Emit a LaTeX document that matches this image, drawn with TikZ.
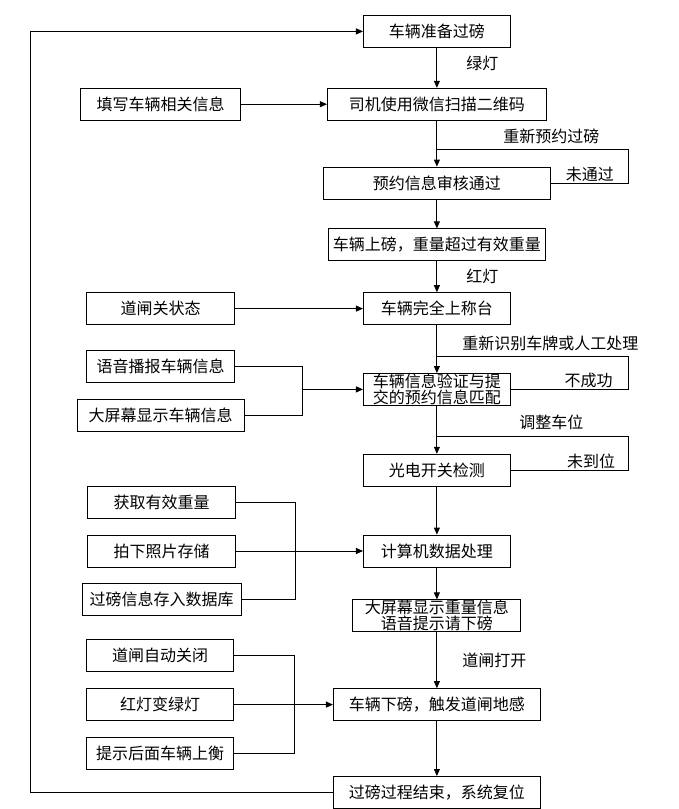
\documentclass[tikz,border=0pt]{standalone}
\usepackage{fontspec}
\setmainfont{Noto Sans CJK SC}
\usetikzlibrary{positioning}
\usetikzlibrary{arrows.meta}

\begin{document}
\begin{tikzpicture}
		[box/.style={rectangle, draw=black, line width=0.8pt, minimum width=147pt, minimum height=32pt, inner sep=0pt, align=center, font=\fontsize{16pt}{16pt}\selectfont},
		lbl/.style={font=\fontsize{16pt}{16pt}\selectfont, inner sep=1pt},
		>={Triangle[length=7pt, width=6pt]}, line width=0.8pt]
		\node[box] (ready) {车辆准备过磅};
		\node[box, minimum width=219pt, below=40pt of ready] (scan) {司机使用微信扫描二维码};
		\node[box, minimum width=227pt, below=46pt of scan] (check) {预约信息审核通过};
		\node[box, minimum width=216pt, below=29pt of check] (onscale) {车辆上磅，重量超过有效重量};
		\node[box, below=31pt of onscale] (full) {车辆完全上称台};
		\node[box, below=48pt of full] (verify) {车辆信息验证与提\\交的预约信息匹配};
		\node[box, below=48pt of verify] (photo) {光电开关检测};
		\node[box, below=48pt of photo] (compute) {计算机数据处理};
		\node[box, minimum width=168pt, below=32pt of compute] (display) {大屏幕显示重量信息\\语音提示请下磅};
		\node[box, minimum width=207pt, below=56pt of display] (leave) {车辆下磅，触发道闸地感};
		\node[box, minimum width=207pt, below=55pt of leave] (reset) {过磅过程结束，系统复位};

		\node[box, minimum width=160pt, left=86pt of scan] (fill) {填写车辆相关信息};
		\node[box, minimum width=148pt, left=128pt of full] (gate) {道闸关状态};
		\node[box, minimum width=148pt, below=25pt of gate] (voice) {语音播报车辆信息};
		\node[box, minimum width=167pt, below=16pt of voice] (screen) {大屏幕显示车辆信息};
		\node[box, minimum width=148pt, left=127pt of compute] (snap) {拍下照片存储};
		\node[box, minimum width=148pt, above=16pt of snap] (weigh) {获取有效重量};
		\node[box, minimum width=159pt, below=16pt of snap] (store) {过磅信息存入数据库};
		\node[box, left=99pt of leave] (green) {红灯变绿灯};
		\node[box, above=16pt of green] (close) {道闸自动关闭};
		\node[box, below=16pt of green] (notify) {提示后面车辆上衡};

		\useasboundingbox ([shift={(-363pt,15pt)}]ready.north west) rectangle ++(679pt,-809pt);

		\draw[->] (ready) -- node[lbl, pos=0.4, right=28pt] {绿灯} (scan);
		\draw[->] (scan) -- node[lbl, pos=0.35, right=65pt] {重新预约过磅} (check);
		\draw[->] (check) -- (onscale);
		\draw[->] (onscale) -- node[lbl, right=28pt] {红灯} (full);
		\draw[->] (full) -- node[lbl, pos=0.375, right=24pt] {重新识别车牌或人工处理} (verify);
		\draw[->] (verify) -- node[lbl, pos=0.35, right=81pt] {调整车位} (photo);
		\draw[->] (photo) -- (compute);
		\draw[->] (compute) -- (display);
		\draw[->] (display) -- node[lbl, right=24pt] {道闸打开} (leave);
		\draw[->] (leave) -- (reset);

		% retry loops
		\coordinate[below=29pt of scan.south] (rejoin1);
		\draw (check.east) -- node[lbl, above] {未通过} ++(78pt,0) |- (rejoin1);
		\coordinate[below=31pt of full.south] (rejoin2);
		\draw (verify.east) -- node[lbl, pos=0.66, above] {不成功} ++(118pt,0) |- (rejoin2);
		\coordinate[below=31pt of verify.south] (rejoin3);
		\draw (photo.east) -- node[lbl, pos=0.68, above] {未到位} ++(118pt,0) |- (rejoin3);

		\draw[->] (fill) -- (scan);
		\draw[->] (gate) -- (full);
		\draw (voice.east) -- ++(67pt,0) coordinate (merge1) |- (screen.east);
		\draw[->] (merge1 |- verify.west) -- (verify.west);
		\draw (weigh.east) -- ++(59pt,0) coordinate (merge2) |- (store.east);
		\draw[->] (snap) -- (compute);
		\draw (close.east) -- ++(60pt,0) coordinate (merge3) |- (notify.east);
		\draw[->] (green) -- (leave);

		\draw[->] (reset.west) -- ++(-303pt,0) |- (ready.west);
	\end{tikzpicture}
\end{document}
